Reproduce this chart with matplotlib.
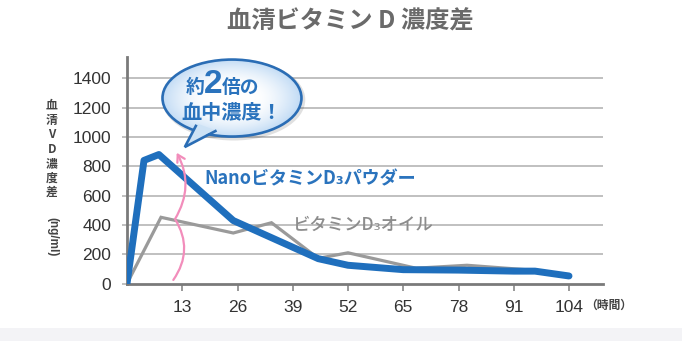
import numpy as np
import matplotlib
matplotlib.use("Agg")
import matplotlib.pyplot as plt
from matplotlib.patches import Ellipse, Polygon, Rectangle, FancyArrowPatch
from matplotlib.path import Path

# ---- data ----
title = "血清ビタミン D 濃度差"
x_ticks = [13, 26, 39, 52, 65, 78, 91, 104]
y_ticks = [0, 200, 400, 600, 800, 1000, 1200, 1400]

nano_label = "NanoビタミンD₃パウダー"
nano_x = [0, 4, 7.5, 25, 45, 52, 65, 78, 91, 96, 104]
nano_y = [0, 840, 880, 430, 170, 125, 95, 92, 85, 85, 52]

oil_label = "ビタミンD₃オイル"
oil_x = [0, 8, 25, 34, 45, 52, 68, 80, 97, 104]
oil_y = [0, 452, 345, 415, 172, 210, 105, 125, 88, 55]

ylabel_stack = "血\n清\nV\nD\n濃\n度\n差"
ylabel_unit = "(ng/ml)"
xlabel_unit = "（時間）"
bubble_line1 = ["約", "2", "倍の"]
bubble_line2 = "血中濃度！"

CJK = ["Noto Sans CJK JP", "DejaVu Sans"]
LAT = ["Liberation Sans", "DejaVu Sans"]

BLUE = "#1f6fbd"
GRAY = "#9a9a9a"
PINK = "#f28dbb"

fig = plt.figure(figsize=(6.82, 3.41), dpi=100)
fig.patch.set_facecolor("white")
# light band at bottom
fig.patches.append(Rectangle((0, 0), 1, 13 / 341, transform=fig.transFigure,
                             facecolor="#f3f3f6", edgecolor="none", zorder=0))

ax = fig.add_axes([127 / 682, 1 - 283.6 / 341, 476 / 682, (283.6 - 56.7) / 341])
ax.set_facecolor("none")

XMIN, XMAX, YMIN, YMAX = 0, 112, 0, 1547

for yt in y_ticks[1:]:
    ax.axhline(yt, color="#b5b5b5", lw=1.2, zorder=1)

ax.plot(oil_x, oil_y, color=GRAY, lw=2.3, zorder=3, solid_joinstyle="miter")
ax.plot(nano_x, nano_y, color=BLUE, lw=5.0, zorder=4, solid_joinstyle="round",
        solid_capstyle="round")

ax.set_xticks(x_ticks)
ax.set_xticklabels([str(v) for v in x_ticks], family=LAT, fontsize=12.5, color="#333333")
ax.set_yticks(y_ticks)
ax.set_yticklabels([str(v) for v in y_ticks], family=LAT, fontsize=12.5, color="#333333")
ax.tick_params(axis="x", length=5, width=1.2, color="#888888", pad=7)
ax.tick_params(axis="y", length=3.5, width=1.2, color="#b5b5b5", pad=8)
for s in ["top", "right"]:
    ax.spines[s].set_visible(False)
for s in ["left", "bottom"]:
    ax.spines[s].set_color("#7a7a7a")
    ax.spines[s].set_linewidth(2.0)

# pink curly arrow
verts = [(10.9, 25), (15.8, 230), (11.3, 440), (15.9, 665), (11.7, 892)]
codes = [Path.MOVETO, Path.CURVE3, Path.CURVE3, Path.CURVE3, Path.CURVE3]
arr = FancyArrowPatch(path=Path(verts, codes), arrowstyle="->,head_length=5,head_width=3",
                      color=PINK, lw=1.6, zorder=5)
ax.add_patch(arr)

# labels on lines
ax.text(18.3, 712, nano_label, family=CJK, fontsize=13, fontweight="bold",
        color="#2a73bd", ha="left", va="center", zorder=6)
ax.text(39.0, 400, oil_label, family=CJK, fontsize=12.5, fontweight="medium",
        color="#8c8c8c", ha="left", va="center", zorder=6)

# speech bubble
cx, cy, w, h = 24.7, 1265, 32.7, 525
shadow = Ellipse((cx + 0.4, cy - 12), w + 1.0, h + 30, facecolor="#000000",
                 alpha=0.12, edgecolor="none", clip_on=False, zorder=7)
ax.add_patch(shadow)
tail_fill = Polygon([(16.6, 1090), (13.6, 931), (20.6, 1048)], closed=True,
                    facecolor="#cde2f5", edgecolor="none", clip_on=False, zorder=9)
ell = Ellipse((cx, cy), w, h, facecolor="none", edgecolor="#2a6db5", lw=1.9,
              clip_on=False, zorder=8)
ax.add_patch(ell)
ell_fill = Ellipse((cx, cy), w, h, facecolor="white", edgecolor="none", clip_on=False, zorder=7.5)
ax.add_patch(ell_fill)
gy, gx = np.mgrid[-1:1:200j, -1:1:200j]
r = np.clip(np.sqrt(gx ** 2 + gy ** 2), 0, 1)
c0 = np.array([1.0, 1.0, 1.0])
c1 = np.array([0.76, 0.86, 0.96])
t = np.clip((r - 0.35) / 0.65, 0, 1) ** 1.5
img = c0[None, None, :] * (1 - t[..., None]) + c1[None, None, :] * t[..., None]
im = ax.imshow(img, extent=(cx - w / 2, cx + w / 2, cy - h / 2, cy + h / 2),
               aspect="auto", zorder=7.8, interpolation="bilinear")
im.set_clip_path(ell_fill)
ax.add_patch(tail_fill)
ax.plot([16.2, 13.6, 20.8], [1075, 931, 1040], color="#2a6db5", lw=1.9,
        clip_on=False, zorder=10, solid_joinstyle="miter")

ax.text(18.1, 1340, bubble_line1[0], family=CJK, fontsize=13.5, fontweight="bold",
        color="#2a73bd", ha="right", va="center", zorder=11, clip_on=False)
ax.text(18.0, 1360, bubble_line1[1], family=LAT, fontsize=24, fontweight="bold",
        color="#2a73bd", ha="left", va="center", zorder=11, clip_on=False)
ax.text(22.3, 1340, bubble_line1[2], family=CJK, fontsize=13.5, fontweight="bold",
        color="#2a73bd", ha="left", va="center", zorder=11, clip_on=False)
ax.text(cx, 1168, bubble_line2, family=CJK, fontsize=14.5, fontweight="bold",
        color="#2a73bd", ha="center", va="center", zorder=11, clip_on=False)

ax.set_xlim(XMIN, XMAX)
ax.set_ylim(YMIN, YMAX)

# title and axis labels
fig.text(350 / 682, 1 - 22 / 341, title, family=CJK, fontsize=17.5, fontweight="bold",
         color="#6a6a6a", ha="center", va="center")
fig.text(52 / 682, 1 - 149 / 341, ylabel_stack, family=CJK, fontsize=8.5, fontweight="bold",
         color="#444444", ha="center", va="center", multialignment="center", linespacing=1.15)
fig.text(52 / 682, 1 - 237 / 341, ylabel_unit, family=LAT, fontsize=8.5, fontweight="bold",
         color="#444444", ha="center", va="center", rotation=270)
fig.text(585 / 682, 1 - 305 / 341, xlabel_unit, family=CJK, fontsize=8.5, fontweight="bold",
         color="#444444", ha="left", va="center")

fig.savefig("out.png", dpi=100)
